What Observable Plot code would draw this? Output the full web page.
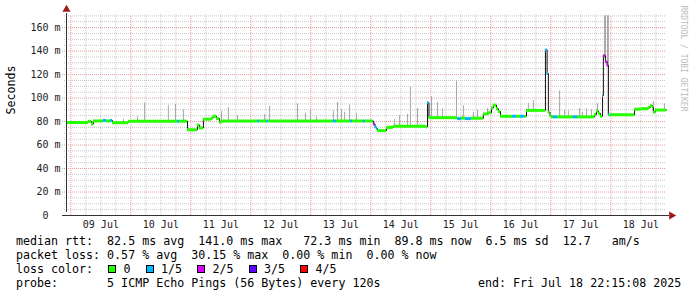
<!DOCTYPE html>
<html><head><meta charset="utf-8">
<script src="https://cdn.jsdelivr.net/npm/d3@7"></script>
<script src="https://cdn.jsdelivr.net/npm/@observablehq/plot@0.6"></script>
<style>
html,body{margin:0;padding:0;background:#fff;}
#wrap{width:697px;height:297px;position:relative;overflow:hidden;background:#fff;}
#chart svg{display:block;}
#legend{position:absolute;left:0;top:234px;width:697px;height:63px;font-family:"DejaVu Sans Mono",monospace;font-size:11.65px;line-height:14px;color:#000;}
.row{position:absolute;height:14px;white-space:pre;}
.box{position:absolute;width:6px;height:6px;border:1px solid #000;}
</style></head><body>
<div id="wrap"><div id="chart"></div><div id="legend"></div></div>
<script>
// ---- data ----
const startTime = "2025-07-08 22:15:08";
const endTime = "2025-07-18 22:15:08";
const medianTimes = [
  "07-08 22:15","07-09 07:00","07-09 08:15","07-09 09:00","07-09 13:00","07-09 14:15","07-09 15:50","07-09 16:40",
  "07-09 23:00","07-10 18:40","07-10 19:30","07-10 22:40","07-11 02:40","07-11 03:30","07-11 05:00","07-11 08:15",
  "07-11 09:00","07-11 10:15","07-11 11:30","07-11 12:15","07-12 02:40","07-12 03:30","07-12 06:15","07-12 07:00",
  "07-13 09:00","07-13 10:15","07-13 15:50","07-13 16:40","07-13 21:00","07-13 21:50","07-14 01:00","07-14 01:40",
  "07-14 02:15","07-14 02:40","07-14 06:15","07-14 09:00","07-14 21:50","07-14 22:40","07-14 23:15","07-15 10:40",
  "07-15 12:15","07-15 13:50","07-15 16:15","07-15 21:00","07-15 23:00","07-16 00:15","07-16 01:00","07-16 02:15",
  "07-16 03:00","07-16 03:50","07-16 08:40","07-16 10:15","07-16 11:50","07-16 13:30","07-16 14:15","07-16 21:50",
  "07-16 22:30","07-16 23:00","07-16 23:40","07-17 00:15","07-17 01:00","07-17 02:40","07-17 09:00","07-17 10:40",
  "07-17 17:30","07-17 18:15","07-17 19:00","07-17 19:50","07-17 20:40","07-17 21:00","07-17 21:50","07-17 22:30",
  "07-17 23:00","07-17 23:30","07-18 09:30","07-18 12:15","07-18 15:00","07-18 15:50","07-18 16:40","07-18 17:00",
  "07-18 17:50"
];
const medianValues = [
  79.2,80.2,77.8,80.5,81.0,80.5,81.0,79.0,
  80.3,80.3,80.3,73.0,77.0,74.5,82.0,83.0,
  84.5,82.5,79.5,80.5,80.5,80.5,80.5,80.5,
  80.5,80.5,80.5,80.5,80.5,80.5,78.0,75.5,
  74.0,72.3,75.0,76.0,75.5,96.0,83.3,82.5,
  83.0,82.5,82.8,86.5,87.5,91.5,94.0,91.0,
  88.5,84.5,84.5,84.5,84.5,84.5,89.5,141.0,
  121.0,88.0,85.0,84.0,84.0,84.0,84.0,84.0,
  86.0,89.0,87.0,84.5,102.0,136.0,131.0,128.0,
  86.0,85.8,90.5,91.0,92.0,93.5,92.0,88.0,
  89.8
];
const lossIndex = [
  0,0,0,0,1,0,1,0,
  0,1,0,0,0,0,0,0,
  0,0,0,0,1,0,1,0,
  1,0,1,0,1,0,2,1,
  1,0,0,0,0,1,0,1,
  0,1,0,0,0,0,0,0,
  0,0,1,0,1,0,0,1,
  1,0,0,0,1,0,1,0,
  0,0,0,0,1,2,2,2,
  1,0,0,0,0,0,0,0,
  0
];
const smokeTimes = [
  "07-09 21:00","07-10 02:40","07-10 05:30","07-10 15:00","07-10 17:50","07-10 21:00","07-11 12:15","07-11 15:00",
  "07-11 18:40","07-12 05:30","07-12 07:30","07-12 18:40","07-12 21:50","07-12 23:50","07-13 02:15","07-13 09:00",
  "07-13 10:40","07-13 12:15","07-13 13:30","07-13 15:30","07-13 18:15","07-14 09:30","07-14 11:30","07-14 14:40",
  "07-14 15:50","07-14 18:40","07-15 00:15","07-15 02:40","07-15 04:40","07-15 10:15","07-15 13:00","07-15 17:00",
  "07-15 18:40","07-15 22:40","07-16 15:00","07-16 17:00","07-17 03:30","07-17 05:30","07-17 07:00","07-17 11:30",
  "07-17 12:40","07-17 14:15","07-17 16:15","07-17 18:40","07-17 21:25","07-17 21:50","07-17 22:40","07-17 23:00",
  "07-18 17:00","07-18 21:25"
];
const smokeTops = [
  82,84,96,93.5,94.5,90,88.5,92,
  85,86,93,95,87,90,84,89,
  96,90,88,94,86.5,81.7,85,86,
  109,91,101,96,91,114,93.5,88,
  89.5,91,95.5,98,106,89.5,89,91,
  88,91,90,95,170,170,170,170,
  97,95
];
const lossLabels = ["0","1/5","2/5","3/5","4/5"];
const lossColors = ["#26ff00","#00b8ff","#dd00ff","#5e00ff","#ff0000"];
const yTicks = [0,20,40,60,80,100,120,140,160];
const yLabel = "Seconds";
const watermark = "RRDTOOL / TOBI OETIKER";
const rttLine  = "median rtt:  82.5 ms avg  141.0 ms max   72.3 ms min  89.8 ms now  6.5 ms sd  12.7   am/s";
const lossLine = "packet loss: 0.57 % avg  30.15 % max  0.00 % min  0.00 % now";
const colorLine = "loss color:";
const probeLine = "probe:       5 ICMP Echo Pings (56 Bytes) every 120s";
const endLine = "end: Fri Jul 18 22:15:08 2025";

// ---- build ----
const parse = s => d3.utcParse("%Y-%m-%d %H:%M")("2025-" + s);
const t0 = d3.utcParse("%Y-%m-%d %H:%M:%S")(startTime);
const t1 = d3.utcParse("%Y-%m-%d %H:%M:%S")(endTime);
const steps = medianTimes.map((s, i) => ({t: parse(s), v: medianValues[i], loss: lossIndex[i]}));
steps.forEach((d, i) => d.t2 = i + 1 < steps.length ? steps[i + 1].t : t1);
const linePts = steps.map(d => ({t: d.t, v: d.v})).concat([{t: t1, v: steps[steps.length - 1].v}]);
const bis = d3.bisector(d => d.t).right;
const medianAt = t => steps[Math.max(0, bis(steps, t) - 1)].v;
const smoke = smokeTimes.map((s, i) => { const t = parse(s); return {t, top: smokeTops[i], base: medianAt(t)}; });

const majorX = d3.utcDay.range(t0, t1);
const minorX = d3.utcHour.every(6).range(t0, t1).filter(d => d.getUTCHours() !== 0);
const noonX = majorX.map(d => d3.utcHour.offset(d, 12));
const yMax = 172;
const minorY = d3.range(5, yMax, 5).filter(v => v % 20 !== 0);
const majorY = d3.range(20, yMax, 20);

const chart = Plot.plot({
  width: 697, height: 234,
  marginLeft: 66, marginRight: 31, marginTop: 13, marginBottom: 19,
  x: {type: "utc", domain: [t0, t1]},
  y: {domain: [0, yMax]},
  color: {domain: [0, 1, 2, 3, 4], range: lossColors},
  style: {fontFamily: "DejaVu Sans Mono, monospace", fontSize: "10px", background: "#fff", color: "#222", overflow: "visible"},
  marks: [
    Plot.ruleY(minorY, {stroke: "#c8c8c8", strokeDasharray: "1,1", insetLeft: -2}),
    Plot.ruleX(minorX, {y1: 0, y2: yMax, stroke: "#c8c8c8", strokeDasharray: "1,1"}),
    Plot.ruleY(majorY, {stroke: "#e89a9a", strokeDasharray: "1,1", insetLeft: -4}),
    Plot.ruleX(majorX, {y1: 0, y2: yMax, stroke: "#e89a9a", strokeDasharray: "1,1", insetBottom: -3}),
    Plot.ruleX(smoke, {x: "t", y1: "base", y2: "top", stroke: "#a6a6a6", strokeWidth: 1}),
    Plot.line(linePts, {x: "t", y: "v", curve: "step-after", stroke: "#111", strokeWidth: 1}),
    Plot.ruleY(steps, {y: "v", x1: "t", x2: "t2", stroke: "loss", strokeWidth: 3}),
    Plot.ruleY([0], {stroke: "#333", insetLeft: -4, insetRight: -3}),
    Plot.ruleX([t0], {y1: 0, y2: yMax, stroke: "#333", insetTop: -3}),
    Plot.dot([{t: t0, v: yMax}], {x: "t", y: "v", symbol: "triangle", r: 3, fill: "#a01818", stroke: "none", dy: -4}),
    Plot.dot([{t: t1, v: 0}], {x: "t", y: "v", symbol: "triangle", rotate: 90, r: 3, fill: "#a01818", stroke: "none", dx: 5}),
    Plot.axisY({ticks: yTicks, tickSize: 0, tickPadding: 6, label: null,
      tickFormat: d => d === 0 ? "0\u00a0\u00a0" : d + " m"}),
    Plot.axisX({ticks: noonX, tickSize: 0, tickPadding: 5, label: null, tickFormat: d3.utcFormat("%d %b")}),
    Plot.text([yLabel], {frameAnchor: "left", rotate: -90, dx: -55, fontSize: 11.65, fill: "#000"}),
    Plot.text([watermark], {frameAnchor: "top-right", rotate: 90, textAnchor: "start", dx: 20, dy: -8, fontSize: 8, fill: "#bbb"})
  ]
});
document.getElementById("chart").appendChild(chart);

// ---- legend below the svg ----
const legend = document.getElementById("legend");
function row(i, left, text) {
  const d = document.createElement("div");
  d.className = "row"; d.style.top = (i * 14) + "px"; d.style.left = left + "px";
  d.textContent = text; legend.appendChild(d);
}
row(0, 16, rttLine);
row(1, 16, lossLine);
row(2, 16, colorLine);
row(3, 16, probeLine);
row(3, 478, endLine);
let bx = 108;
lossLabels.forEach((lab, i) => {
  const b = document.createElement("div");
  b.className = "box"; b.style.left = bx + "px"; b.style.top = "31px"; b.style.background = lossColors[i];
  legend.appendChild(b);
  row(2, bx + 15.5, lab);
  bx = bx + 15.5 + lab.length * 7 + 15;
});
</script>
</body></html>
